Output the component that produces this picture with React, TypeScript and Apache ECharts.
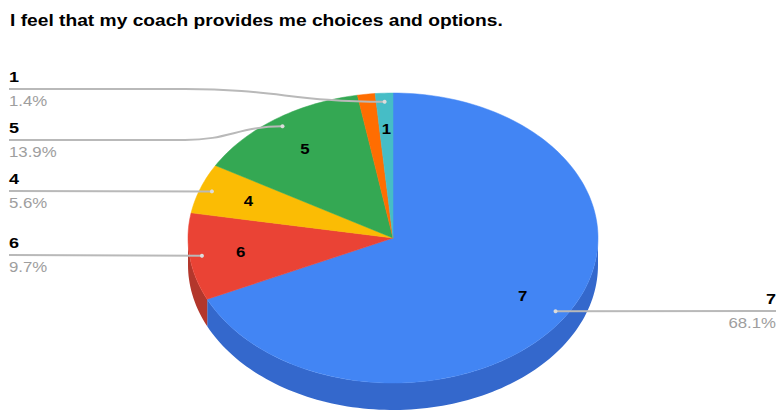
import React, { useEffect, useRef } from "react";
import * as echarts from "echarts";

const TITLE = "I feel that my coach provides me choices and options.";
const CATEGORIES = ["7", "6", "4", "5", "2", "1"];
const COUNTS = [49, 7, 4, 10, 1, 1];
const COLORS = ["#4285F4", "#EA4335", "#FBBC04", "#34A853", "#FF6D01", "#46BDC6"];
const SIDE_COLORS = ["#3468CC", "#B3372C", "#C89500", "#2A8543", "#C95601", "#38969D"];
const SHOW_INSIDE = [true, true, true, true, false, true];
const SHOW_OUTSIDE = [true, true, true, true, false, true];

// layout (not data)
const LABEL_LINE_Y: Record<string, number> = { "1": 89, "5": 140, "4": 191, "6": 255, "7": 311 };
const CX = 393;
const CY = 238;
const RX = 205;
const RY = 145;
const DEPTH = 27;
const TEXT_SCALE_X = 1.2;
const FONT = "Arial, 'Liberation Sans', sans-serif";

const TOTAL = COUNTS.reduce((a, b) => a + b, 0);
const STARTS: number[] = [];
{
  let acc = 0;
  for (const c of COUNTS) {
    STARTS.push((acc / TOTAL) * Math.PI * 2);
    acc += c;
  }
}
const angEnd = (i: number) => STARTS[i] + (COUNTS[i] / TOTAL) * Math.PI * 2;
const pt = (t: number, r: number, dy = 0): number[] => [
  CX + r * RX * Math.sin(t),
  CY - r * RY * Math.cos(t) + dy,
];
const arc = (a0: number, a1: number, dy = 0): number[][] => {
  const n = Math.max(2, Math.ceil(((a1 - a0) / (Math.PI * 2)) * 240));
  const out: number[][] = [];
  for (let k = 0; k <= n; k++) out.push(pt(a0 + ((a1 - a0) * k) / n, 1, dy));
  return out;
};

export default function App() {
  const ref = useRef<HTMLDivElement>(null);
  useEffect(() => {
    document.body.style.margin = "0";
    const chart = echarts.init(ref.current!, null, { renderer: "svg" });
    const data = COUNTS.map((v, i) => [i, v]);

    const sideItem = (params: any) => {
      const i = params.dataIndex;
      const a0 = Math.max(STARTS[i], Math.PI / 2);
      const a1 = Math.min(angEnd(i), (Math.PI * 3) / 2);
      if (a1 <= a0) return null;
      const top = arc(a0, a1, 0);
      const bot = arc(a0, a1, DEPTH).reverse();
      return {
        type: "polygon",
        shape: { points: top.concat(bot) },
        style: { fill: SIDE_COLORS[i] },
      };
    };

    const topItem = (params: any) => {
      const i = params.dataIndex;
      const pts = [[CX, CY], ...arc(STARTS[i], angEnd(i), 0)];
      return {
        type: "polygon",
        shape: { points: pts },
        style: { fill: COLORS[i], stroke: COLORS[i], lineWidth: 0.5 },
      };
    };

    const labelItem = (params: any) => {
      const i = params.dataIndex;
      const mid = (STARTS[i] + angEnd(i)) / 2;
      const children: any[] = [];
      if (SHOW_INSIDE[i]) {
        const [x, y] = pt(mid, 0.75);
        children.push({
          type: "text",
          x,
          y,
          scaleX: TEXT_SCALE_X,
          style: {
            text: CATEGORIES[i],
            x: 0,
            y: 0,
            fill: "#000",
            font: `bold 14px ${FONT}`,
            align: "center",
            verticalAlign: "middle",
          },
        });
      }
      if (SHOW_OUTSIDE[i]) {
        const [ax, ay] = pt(mid, 0.94);
        const ly = LABEL_LINE_Y[CATEGORIES[i]] ?? ay;
        const left = ax < CX;
        const edgeX = left ? 9 : 776;
        const lineStyle = { stroke: "#b9b9b9", lineWidth: 2, fill: "none" };
        if (Math.abs(ay - ly) < 3) {
          children.push({ type: "line", shape: { x1: edgeX, y1: ly, x2: ax, y2: ay }, style: lineStyle });
        } else {
          const bendX = left ? 185 : 600;
          const d = ax - bendX;
          children.push({ type: "line", shape: { x1: edgeX, y1: ly, x2: bendX, y2: ly }, style: lineStyle });
          children.push({
            type: "bezierCurve",
            shape: {
              x1: bendX,
              y1: ly,
              cpx1: bendX + d * 0.45,
              cpy1: ly,
              cpx2: bendX + d * 0.55,
              cpy2: ay,
              x2: ax,
              y2: ay,
            },
            style: lineStyle,
          });
        }
        children.push({ type: "circle", shape: { cx: ax, cy: ay, r: 2 }, style: { fill: "#dcdcdc" } });
        const pct = ((COUNTS[i] / TOTAL) * 100).toFixed(1) + "%";
        children.push({
          type: "text",
          x: edgeX,
          y: ly - 4,
          scaleX: TEXT_SCALE_X,
          style: {
            text: CATEGORIES[i],
            x: 0,
            y: 0,
            fill: "#000",
            font: `bold 15px ${FONT}`,
            align: left ? "left" : "right",
            verticalAlign: "bottom",
          },
        });
        children.push({
          type: "text",
          x: edgeX,
          y: ly + 5,
          scaleX: TEXT_SCALE_X,
          style: {
            text: pct,
            x: 0,
            y: 0,
            fill: "#9e9e9e",
            font: `14px ${FONT}`,
            align: left ? "left" : "right",
            verticalAlign: "top",
          },
        });
      }
      return { type: "group", children };
    };

    chart.setOption({
      animation: false,
      backgroundColor: "#ffffff",
      graphic: [
        {
          type: "text",
          x: 10,
          y: 12,
          scaleX: 1.13,
          style: {
            text: TITLE,
            x: 0,
            y: 0,
            fill: "#000",
            font: `bold 17px ${FONT}`,
            verticalAlign: "top",
          },
        },
      ],
      series: [
        { type: "custom", coordinateSystem: "none", silent: true, z: 1, data, renderItem: sideItem },
        { type: "custom", coordinateSystem: "none", silent: true, z: 2, data, renderItem: topItem },
        { type: "custom", coordinateSystem: "none", silent: true, z: 3, data, renderItem: labelItem },
      ],
    });
    return () => chart.dispose();
  }, []);
  return <div ref={ref} style={{ width: 778, height: 415 }} />;
}
